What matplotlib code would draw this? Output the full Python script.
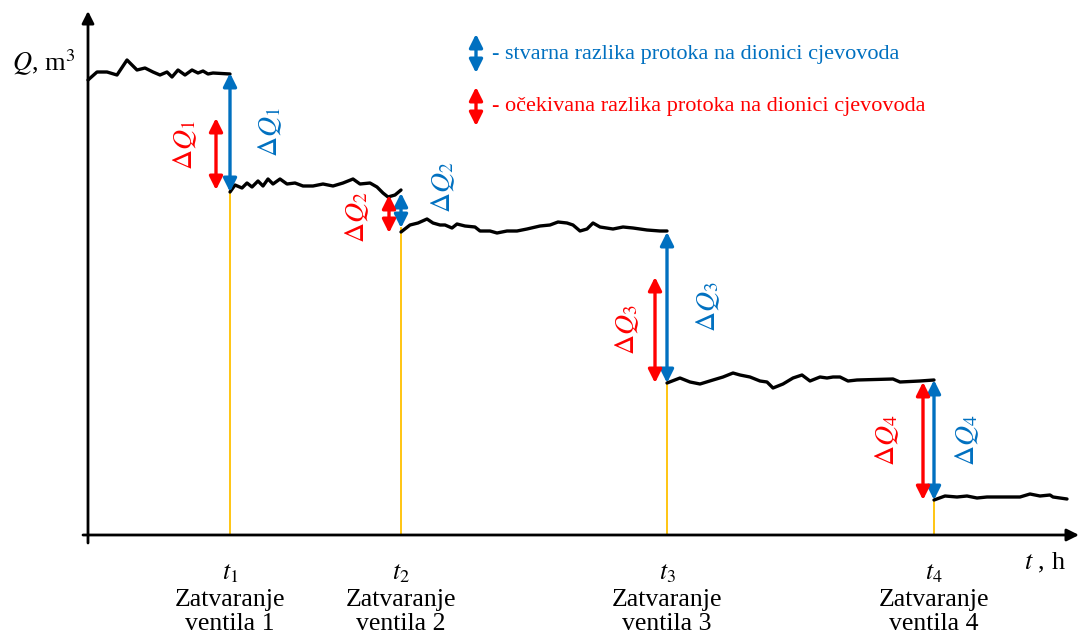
import numpy as np
import matplotlib.pyplot as plt
from matplotlib.patches import FancyArrowPatch

plt.rcParams['font.family'] = ['Liberation Serif', 'DejaVu Serif']
plt.rcParams['mathtext.fontset'] = 'stix'

BLUE = '#0070C0'
RED = '#FF0000'
ORANGE = '#FFC000'

# measured flow curve, one list per interval between valve closures
seg_t = [
    [0, 0.9, 1.9, 2.9, 3.9, 4.4, 4.9, 5.7, 6.5, 7.2, 7.9, 8.4, 9.0, 9.7, 10.4, 11.0, 11.5, 12.0, 12.5, 14.2],
    [14.2, 14.7, 15.4, 15.9, 16.4, 17.0, 17.5, 18.0, 18.5, 19.2, 19.9, 20.7, 21.5, 22.5, 23.5, 24.5, 25.5,
     26.5, 27.2, 28.2, 28.9, 29.5, 30.0, 30.7, 31.3],
    [31.3, 32.2, 33.0, 33.9, 34.5, 35.2, 35.7, 36.4, 36.9, 37.7, 38.7, 39.2, 40.2, 40.9, 41.9, 42.9, 43.9,
     45.2, 46.2, 47.0, 47.9, 48.5, 49.2, 49.9, 50.5, 51.2, 52.5, 53.5, 54.5, 55.9, 57.2, 57.9],
    [57.9, 59.2, 60.2, 61.2, 62.5, 63.5, 64.5, 65.2, 66.2, 67.2, 67.9, 68.5, 69.5, 70.5, 71.4, 72.2, 73.2,
     73.9, 74.5, 75.2, 76.0, 76.9, 80.5, 81.2, 83.2, 84.6],
    [84.6, 85.7, 86.9, 87.9, 88.9, 89.9, 90.9, 91.9, 93.2, 94.2, 95.2, 96.2, 96.5, 97.9],
]
seg_q = [
    [91.0, 92.6, 92.6, 92.0, 95.0, 94.0, 93.0, 93.4, 92.6, 92.0, 92.6, 91.6, 93.0, 92.0, 93.0, 92.4, 92.8, 92.2, 92.4, 92.2],
    [68.6, 70.0, 69.4, 70.4, 69.6, 70.8, 69.8, 71.2, 70.2, 71.2, 70.2, 70.4, 69.8, 69.8, 70.2, 69.8, 70.4,
     71.2, 70.2, 70.4, 69.6, 68.4, 67.6, 68.0, 69.0],
    [60.6, 62.0, 62.4, 63.2, 62.4, 62.0, 62.0, 61.4, 62.2, 61.8, 61.6, 60.8, 60.8, 60.4, 60.8, 60.8, 61.2,
     61.8, 62.0, 62.6, 62.4, 62.0, 60.8, 61.2, 62.4, 61.6, 61.2, 61.6, 61.4, 61.0, 60.8, 60.8],
    [30.4, 31.4, 30.6, 30.2, 31.0, 31.6, 32.4, 32.0, 31.6, 30.8, 30.6, 29.4, 30.2, 31.4, 32.0, 30.8, 31.6,
     31.4, 31.6, 31.6, 30.8, 31.0, 31.2, 30.6, 30.8, 31.0],
    [7.0, 7.8, 7.6, 7.8, 7.4, 7.6, 7.6, 7.6, 7.6, 8.2, 7.8, 8.0, 7.6, 7.2],
]

# valve closures
t_close = [14.2, 31.3, 57.9, 84.6]
# actual difference (blue arrows): from / to
real_top = [92.4, 68.4, 60.6, 31.0]
real_bot = [68.6, 61.4, 30.4, 7.0]
# expected difference (red arrows)
exp_t = [12.8, 30.1, 56.7, 83.5]
exp_top = [83.4, 68.0, 51.6, 30.6]
exp_bot = [69.0, 60.4, 30.4, 7.0]
# label positions
exp_lbl = [(9.7, 78.0), (26.9, 63.6), (53.9, 41.0), (79.9, 19.0)]
real_lbl = [(18.2, 80.6), (35.5, 69.6), (62.0, 45.6), (87.9, 19.0)]

fig = plt.figure(figsize=(10.8, 6.39), dpi=100)
ax = fig.add_axes([0, 0, 1, 1])
ax.set_xlim(-8.8, 99.2)
ax.set_ylim(-20.8, 107)
ax.axis('off')


def dbl_arrow(x, y0, y1, color):
    a = FancyArrowPatch((x, y0), (x, y1), arrowstyle='<|-|>', mutation_scale=20,
                        lw=2.4, color=color, shrinkA=0, shrinkB=0, zorder=4)
    ax.add_patch(a)


# axes with arrow heads
ax.annotate('', xy=(99.1, 0), xytext=(-0.5, 0),
            arrowprops=dict(arrowstyle='-|>', lw=2, color='black', mutation_scale=18, shrinkA=0, shrinkB=0))
ax.annotate('', xy=(0, 104.8), xytext=(0, -1.6),
            arrowprops=dict(arrowstyle='-|>', lw=2, color='black', mutation_scale=18, shrinkA=0, shrinkB=0))

for t, q in zip(seg_t, seg_q):
    ax.plot(t, q, color='black', lw=2.4, solid_capstyle='round', zorder=3)

for i, t in enumerate(t_close):
    ax.plot([t, t], [0, real_bot[i]], color=ORANGE, lw=1.3, zorder=2)
    dbl_arrow(t, real_top[i], real_bot[i], BLUE)
    dbl_arrow(exp_t[i], exp_top[i], exp_bot[i], RED)
    ax.text(*exp_lbl[i], r'$\Delta Q_%d$' % (i + 1), color=RED, fontsize=20,
            rotation=90, ha='center', va='center')
    ax.text(*real_lbl[i], r'$\Delta Q_%d$' % (i + 1), color=BLUE, fontsize=20,
            rotation=90, ha='center', va='center')
    ax.text(t, -7.8, r'$t_%d$' % (i + 1), fontsize=18.5, ha='center', va='center')
    ax.text(t, -13.0, 'Zatvaranje', fontsize=18.5, ha='center', va='center')
    ax.text(t, -17.9, 'ventila %d' % (i + 1), fontsize=18.5, ha='center', va='center')

ax.text(-1.3, 94.4, r'$Q$, m$^3$', fontsize=19, ha='right', va='center')
ax.text(95.7, -5.6, r'$t$ , h', fontsize=19, ha='center', va='center')

# legend
dbl_arrow(38.8, 100.2, 92.4, BLUE)
dbl_arrow(38.8, 89.6, 81.8, RED)
ax.text(40.4, 96.2, '- stvarna razlika protoka na dionici cjevovoda', color=BLUE,
        fontsize=16, ha='left', va='center')
ax.text(40.4, 85.8, '- očekivana razlika protoka na dionici cjevovoda', color=RED,
        fontsize=16, ha='left', va='center')

fig.savefig('out.png', dpi=100)
